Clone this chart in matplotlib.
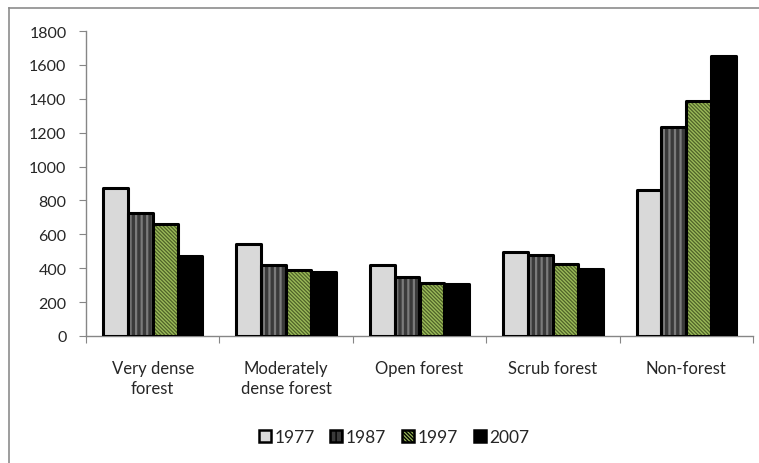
import matplotlib
matplotlib.use("Agg")
import matplotlib.pyplot as plt
import numpy as np
from matplotlib.patches import Patch
from matplotlib.lines import Line2D

categories = ["Very dense\nforest", "Moderately\ndense forest", "Open forest",
              "Scrub forest", "Non-forest"]
years = ["1977", "1987", "1997", "2007"]
v1977 = [872, 544, 418, 494, 862]
v1987 = [724, 418, 346, 478, 1235]
v1997 = [660, 387, 313, 426, 1385]
v2007 = [474, 376, 306, 398, 1655]
yticks = [0, 200, 400, 600, 800, 1000, 1200, 1400, 1600, 1800]

series = [v1977, v1987, v1997, v2007]
# fill colour, hatch, hatch colour, hatch line width for each year
styles = [
    ("#d9d9d9", None, "#d9d9d9", 1.0),
    ("#3a3a3a", "|||", "#7a7a7a", 1.6),
    ("#9bbb59", "\\\\\\\\\\\\\\\\\\", "#4f6228", 0.9),
    ("#000000", None, "#000000", 1.0),
]

plt.rcParams["font.family"] = ["Lato", "DejaVu Sans"]

fig = plt.figure(figsize=(7.59, 4.64), dpi=100)
ax = fig.add_axes([86 / 759, 1 - 337 / 464, (753 - 86) / 759, (337 - 32) / 464])

x = np.arange(len(categories))
w = 0.186
offsets = (np.arange(len(years)) - 1.5) * w
for vals, off, (fc, hatch, hc, hlw) in zip(series, offsets, styles):
    with plt.rc_context({"hatch.linewidth": hlw}):
        bars = ax.bar(x + off, vals, w, color=fc, edgecolor=hc, hatch=hatch,
                      linewidth=0, zorder=2)
        for b in bars:
            if hasattr(b, "set_hatch_linewidth"):
                b.set_hatch_linewidth(hlw)
    ax.bar(x + off, vals, w, facecolor="none", edgecolor="black", linewidth=2.2,
           joinstyle="round", zorder=3)

ax.set_ylim(0, 1800)
ax.set_xlim(-0.5, len(categories) - 0.5)
ax.set_yticks(yticks)
ax.set_yticklabels([str(t) for t in yticks], fontsize=11.5, color="#262626")

spine_c = "#868686"
for s in ["top", "right"]:
    ax.spines[s].set_visible(False)
for s in ["left", "bottom"]:
    ax.spines[s].set_color(spine_c)
    ax.spines[s].set_linewidth(1.0)

ax.set_xticks(np.arange(len(categories) + 1) - 0.5)
ax.set_xticklabels([])
ax.set_xticks(x, minor=True)
ax.set_xticklabels(categories, minor=True, fontsize=12, color="#262626",
                   linespacing=1.3)
ax.tick_params(axis="x", which="major", length=5, color=spine_c, direction="out")
ax.tick_params(axis="x", which="minor", length=0, pad=17)
ax.tick_params(axis="y", length=5, color=spine_c, direction="out", pad=9)

handles = []
for (fc, hatch, hc, hlw) in styles:
    handles.append(Patch(facecolor=fc, edgecolor="black", linewidth=1.8,
                         hatch=hatch, joinstyle="round"))
leg = fig.legend(handles, years, loc="center", bbox_to_anchor=(394 / 759, 1 - 438 / 464),
                 ncol=4, frameon=False, fontsize=12.5, handlelength=0.7,
                 handleheight=0.7, handletextpad=0.2, columnspacing=0.9)
for t in leg.get_texts():
    t.set_color("#262626")

# chart frame
fc_ = "#8c8c8c"
fig.add_artist(Line2D([8.5 / 759, 8.5 / 759], [-0.1, 1 - 8.5 / 464],
                      transform=fig.transFigure, color=fc_, linewidth=1.2))
fig.add_artist(Line2D([8.5 / 759, 1.1], [1 - 8.5 / 464, 1 - 8.5 / 464],
                      transform=fig.transFigure, color=fc_, linewidth=1.2))

fig.savefig("out.png", dpi=100)
